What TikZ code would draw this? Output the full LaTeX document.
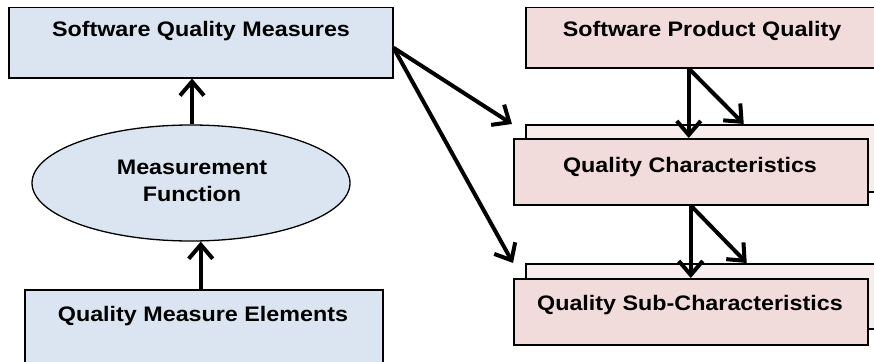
\documentclass[tikz,border=0pt]{standalone}
\usepackage{fontspec}
\newfontfamily\labfont[FakeStretch=1.11]{Liberation Sans}
\usetikzlibrary{arrows.meta,shapes.geometric}
\definecolor{bluefill}{HTML}{DBE5F1}
\definecolor{pinkfill}{HTML}{F2DCDB}
\definecolor{pinkback}{HTML}{F8EDED}
\begin{document}
\begin{tikzpicture}[x=1pt,y=-1pt,
  bluebox/.style={draw=black,line width=1.5pt,fill=bluefill,rectangle,inner sep=0pt,anchor=north west},
  pinkbox/.style={draw=black,line width=1.5pt,fill=pinkfill,rectangle,inner sep=0pt,anchor=north west},
  backbox/.style={draw=black,line width=1.5pt,fill=pinkback,rectangle,inner sep=0pt,anchor=north west},
  lab/.style={font=\labfont\fontsize{21}{26.5}\selectfont\bfseries,inner sep=0pt,anchor=base,align=center},
  arr/.style={line width=4pt,-{Straight Barb[length=14pt,width=24pt,line width=4pt]}}]
\useasboundingbox (0,0) rectangle (874,361);
\clip (0,0) rectangle (874,361);
% left column
\node[bluebox,minimum width=384,minimum height=70] (sqm) at (8,7) {};
\node[lab] (sqmt) at (201,37) {Software Quality Measures};
\node[draw=black,line width=1.3pt,fill=bluefill,ellipse,inner sep=0pt,minimum width=318,minimum height=116] (ell) at (191,183) {};
\node[lab] (ellt1) at (192,174) {Measurement};
\node[lab] (ellt2) at (192,201) {Function};
\node[bluebox,minimum width=358,minimum height=90] (qme) at (24,289) {};
\node[lab] (qmet) at (203,321) {Quality Measure Elements};
% right column
\node[pinkbox,minimum width=360,minimum height=60] (spq) at (525,7) {};
\node[lab] (spqt) at (702,37) {Software Product Quality};
\node[backbox,minimum width=360,minimum height=67] (qcb) at (525,124) {};
\node[pinkbox,minimum width=354,minimum height=66] (qc) at (513,138) {};
\node[lab] (qct) at (690,172) {Quality Characteristics};
\node[backbox,minimum width=360,minimum height=65] (qscb) at (525,263) {};
\node[pinkbox,minimum width=354,minimum height=66] (qsc) at (513,278) {};
\node[lab] (qsct) at (690,310) {Quality Sub-Characteristics};
% anchor coordinates
\coordinate (sqmR) at ([yshift=-5pt]sqm.east);
\coordinate (qcTL) at (qcb.north west);
\coordinate (qscTL) at (qscb.north west);
% connectors
\draw[arr] ([xshift=1pt]ell.north) -- ([xshift=1pt]ell.north |- sqm.south);
\draw[arr] ([xshift=-3pt]qme.north) -- ([xshift=-3pt]qme.north |- ell.south);
\draw[arr] (sqmR) -- ([xshift=-13pt]qcTL);
\draw[arr] (sqmR) -- ([xshift=-12pt]qscTL);
\draw[arr] ([xshift=-2pt]spq.south -| qc.north) -- ([xshift=-2pt]qc.north);
\draw[arr] ([xshift=-2pt]spq.south -| qc.north) -- ([xshift=53pt]qcb.north -| qc.north);
\draw[arr] (qc.south) -- (qsc.north);
\draw[arr] (qc.south) -- ([xshift=56pt]qscb.north -| qc.north);
\end{tikzpicture}
\end{document}
